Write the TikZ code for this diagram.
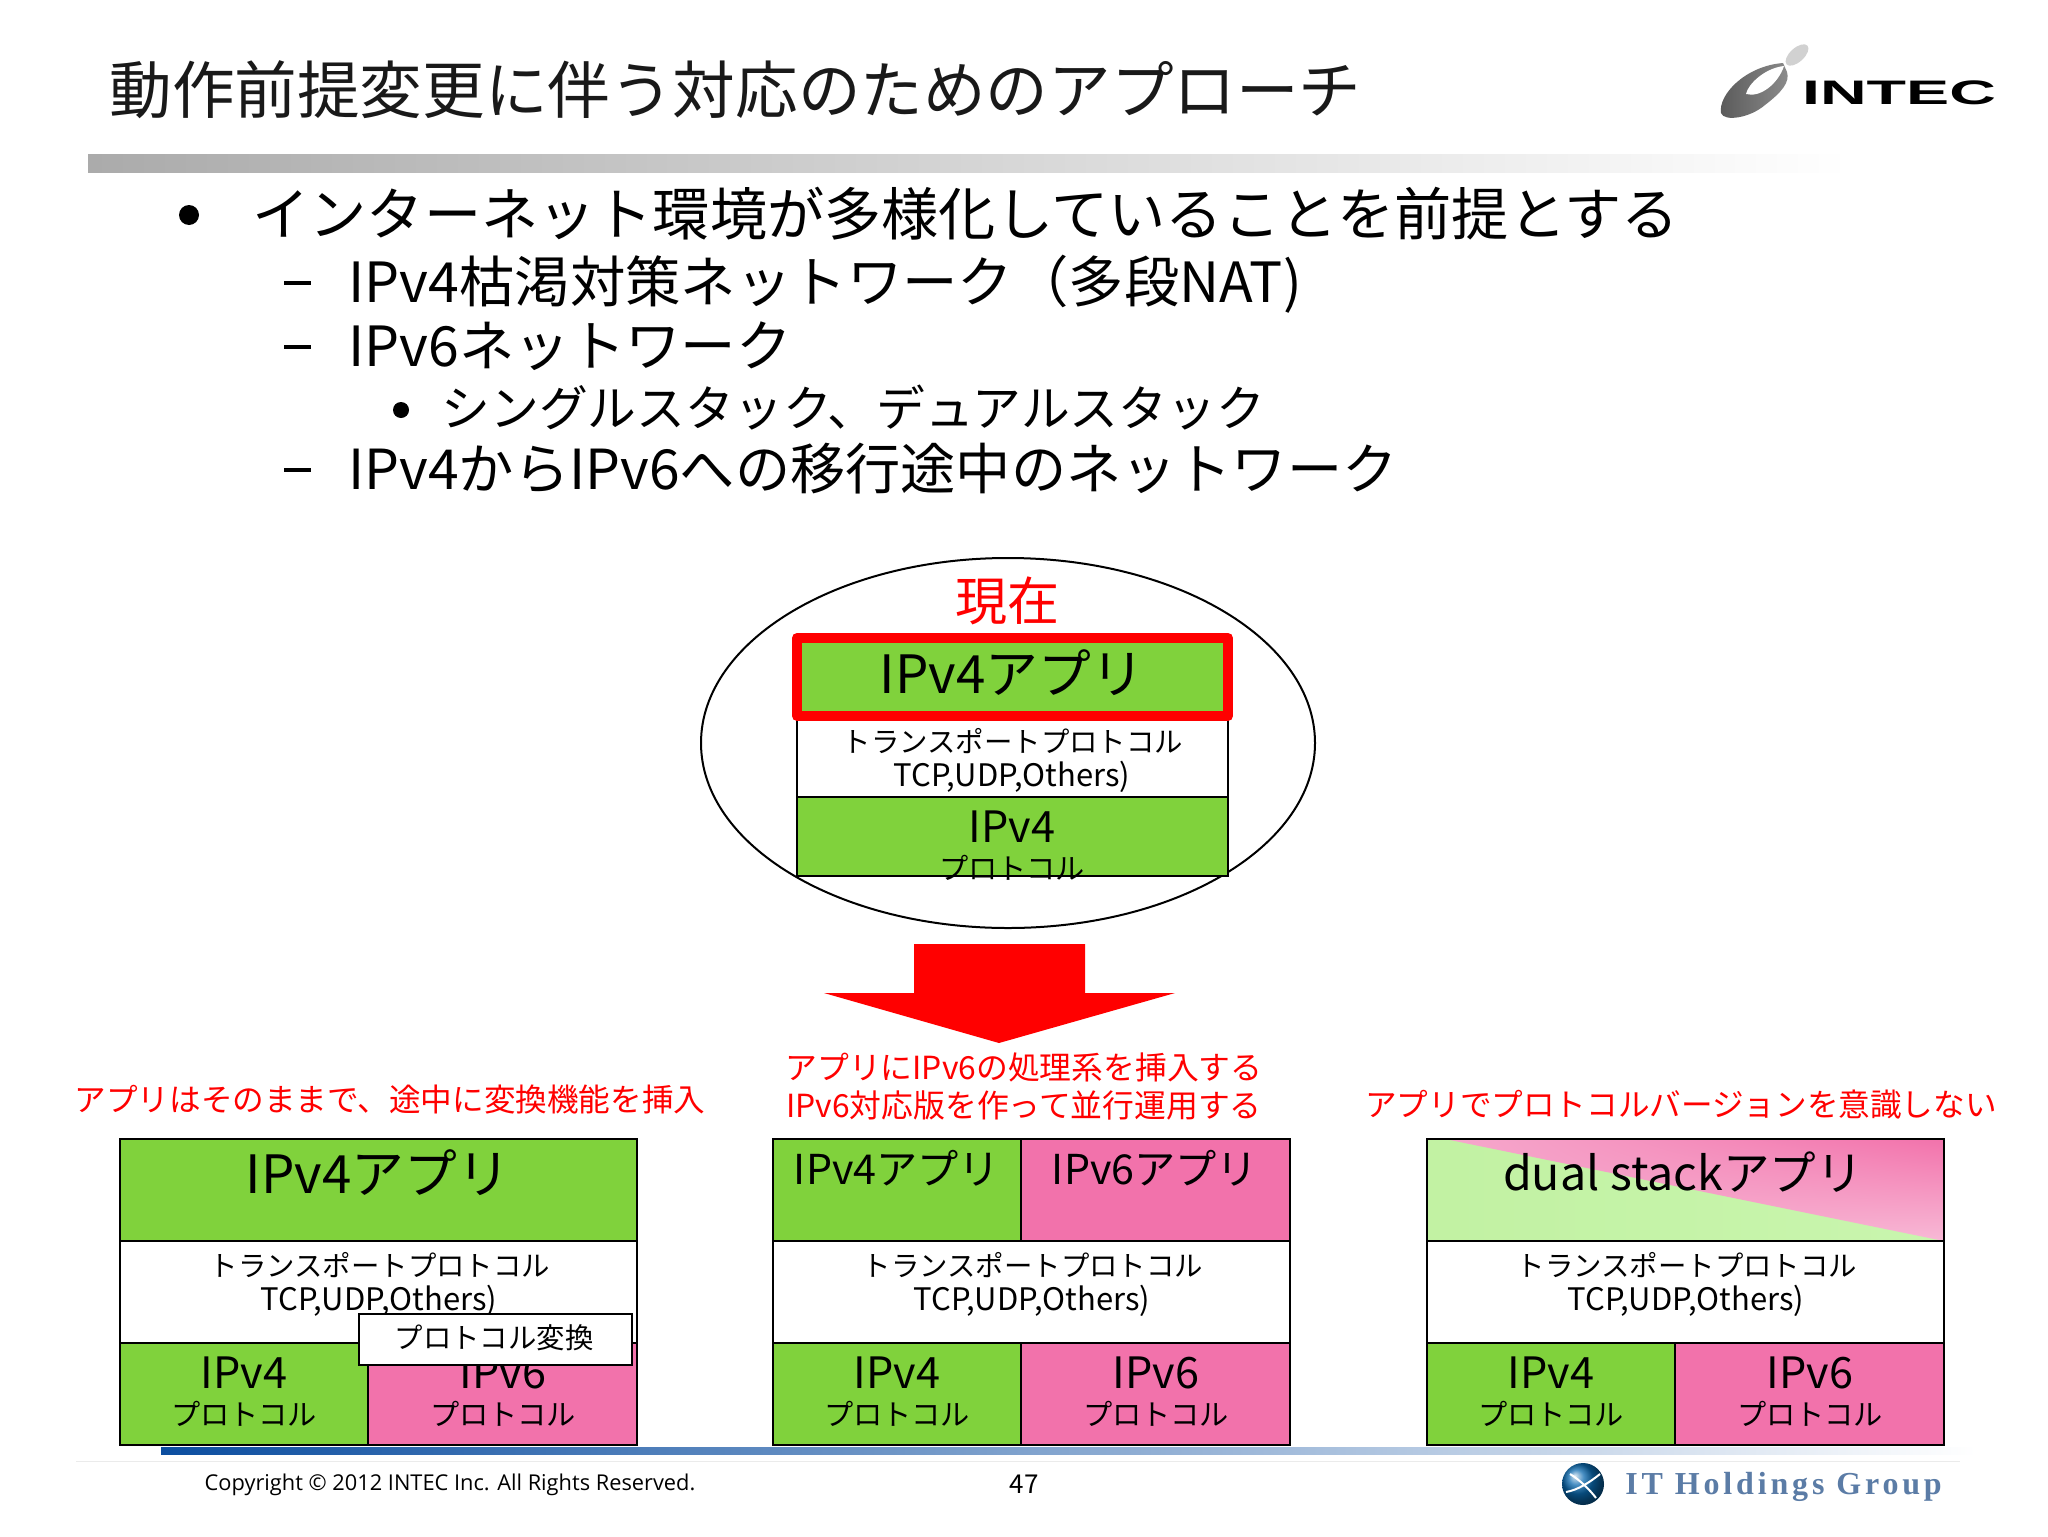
\documentclass[tikz,border=0pt]{standalone}
\usepackage{fontspec}
\setmainfont{Noto Sans CJK JP}
\newfontfamily\copyfont{Open Sans}
\newfontfamily\itfont[LetterSpace=12]{Liberation Serif}
\newfontfamily\logofont{Liberation Sans}
\usetikzlibrary{arrows.meta, calc, positioning, shapes.geometric, shadings}
\definecolor{stackgreen}{HTML}{80D23C}
\definecolor{stackpink}{HTML}{F272AB}
\definecolor{paleGreen}{HTML}{C9F5AE}
\definecolor{palePink}{HTML}{F6A8CC}
\definecolor{footblue}{HTML}{0C4EA0}
\definecolor{footmid}{HTML}{8A93D0}
\definecolor{itblue}{HTML}{5B7CA6}
\tikzset{
  layerbox/.style={draw=black,line width=1.2pt},
  applabel/.style={font=\fontsize{26.4}{30}\selectfont,inner sep=0pt},
  smalljp/.style={font=\fontsize{14.2}{18}\selectfont,inner sep=0pt},
  protojp/.style={font=\fontsize{14.6}{18}\selectfont,inner sep=0pt},
  tcplabel/.style={font=\fontsize{15.5}{18}\selectfont,inner sep=0pt},
  protolabel/.style={font=\fontsize{21.6}{24}\selectfont,inner sep=0pt},
  redjp/.style={font=\fontsize{15.8}{19}\selectfont,red,inner sep=0pt},
  bodyline/.style={anchor=west,inner sep=0pt},
}

\begin{document}
\begin{tikzpicture}[x=0.5pt,y=-0.5pt,>=Stealth]
  \useasboundingbox (0,0) rectangle (2048,1536);
  \fill[white] (0,0) rectangle (2048,1536);
  % ---- title and rule ----
  \node[anchor=west,inner sep=0pt,font=\fontsize{31.3}{36}\selectfont,black!90] (title) at (109,90)
    {動作前提変更に伴う対応のためのアプローチ};
  \shade[left color=black!33,right color=white] (88,154) rectangle (1850,172);
  % ---- intec logo ----
  \shade[left color=black!65,right color=black!45]
    (1783,63) .. controls (1745,66) and (1718,95) .. (1721,113)
    .. controls (1724,122) and (1750,118) .. (1765,105)
    .. controls (1782,92) and (1790,82) .. (1787,72) -- cycle;
  \fill[white] (1784,66) .. controls (1765,68) and (1748,84) .. (1746,94)
    .. controls (1760,98) and (1778,84) .. (1784,66) -- cycle;
  \fill[black!18,rotate around={42:(1797,55)}] (1797,55) ellipse (14 and 7);
  \node[inner sep=0pt,xscale=1.9,font=\logofont\bfseries\fontsize{17}{18}\selectfont] (intec) at (1899,93) {INTEC};
  % ---- bullets ----
  \fill (189,215) circle (10);
  \node[bodyline,font=\fontsize{28.6}{34}\selectfont] (lineA) at (252,214)
    {インターネット環境が多様化していることを前提とする};
  \node[bodyline,font=\fontsize{27.7}{32}\selectfont] (lineB) at (348,284)
    {IPv4枯渇対策ネットワーク（多段NAT)};
  \node[bodyline,font=\fontsize{27.7}{32}\selectfont] (lineC) at (348,346) {IPv6ネットワーク};
  \node[bodyline,font=\fontsize{24.4}{28}\selectfont] (lineD) at (441,408)
    {シングルスタック、デュアルスタック};
  \node[bodyline,font=\fontsize{27.6}{32}\selectfont] (lineE) at (348,469)
    {IPv4からIPv6への移行途中のネットワーク};
  \foreach \y in {283,347,470} {
    \fill (284,\y-2) rectangle (311,\y+2);
  }
  \fill (401,410) circle (8);
  % ---- current stack ----
  \draw[line width=1pt] (1008,743) ellipse (307 and 185);
  \fill[stackgreen] (797,638) rectangle (1228,716);
  \draw[layerbox,fill=white] (797,716) rectangle (1228,797);
  \draw[layerbox,fill=stackgreen] (797,797) rectangle (1228,876);
  \draw[red,line width=5pt,line join=round] (797,638) rectangle (1228,716);
  \node[font=\fontsize{26}{30}\selectfont,red,inner sep=0pt] (nowlabel) at (1007,601) {現在};
  \node[applabel] (nowapp) at (1012,673) {IPv4アプリ};
  \node[smalljp] (nowtrans) at (1013,741) {トランスポートプロトコル};
  \node[tcplabel] (nowtcp) at (1012,777) {TCP,UDP,Others)};
  \node[protolabel] (nowip) at (1012,827) {IPv4};
  \node[protojp] (nowproto) at (1012,868) {プロトコル};
  % ---- down arrow ----
  \fill[red] (914,944) -- (1085,944) -- (1085,993) -- (1175,993) -- (999,1043)
    -- (824,993) -- (914,993) -- cycle;
  % ---- captions ----
  \node[redjp] (capleft) at (390,1100) {アプリはそのままで、途中に変換機能を挿入};
  \node[redjp,font=\fontsize{15.9}{19}\selectfont] (capmidA) at (1024,1067) {アプリにIPv6の処理系を挿入する};
  \node[redjp,font=\fontsize{15.9}{19}\selectfont] (capmidB) at (1024,1105) {IPv6対応版を作って並行運用する};
  \node[redjp] (capright) at (1681,1105) {アプリでプロトコルバージョンを意識しない};
  % ---- three stacks, shared part ----
  \foreach \x/\i in {120/L,773/M,1427/R} {
    \draw[layerbox,fill=white] (\x,1241) rectangle (\x+517,1343);
    \draw[layerbox,fill=stackgreen] (\x,1343) rectangle (\x+248,1445);
    \draw[layerbox,fill=stackpink] (\x+248,1343) rectangle (\x+517,1445);
    \node[smalljp] (trans\i) at (\x+260,1265) {トランスポートプロトコル};
    \node[tcplabel] (tcp\i) at (\x+259,1301) {TCP,UDP,Others)};
    \node[protolabel] (ipA\i) at (\x+124,1373) {IPv4};
    \node[protolabel] (ipB\i) at (\x+383,1373) {IPv6};
    \node[protojp] (protoA\i) at (\x+124,1414) {プロトコル};
    \node[protojp] (protoB\i) at (\x+383,1414) {プロトコル};
  }
  % left: top app and converter
  \draw[layerbox,fill=stackgreen] (120,1139) rectangle (637,1241);
  \node[applabel] (appL) at (378,1173) {IPv4アプリ};
  \draw[layerbox,line width=1pt,fill=white] (359,1314) rectangle (632,1365);
  \node[smalljp] (convert) at (494,1338) {プロトコル変換};
  % middle: two apps
  \draw[layerbox,fill=stackgreen] (773,1139) rectangle (1021,1241);
  \draw[layerbox,fill=stackpink] (1021,1139) rectangle (1290,1241);
  \node[protolabel,font=\fontsize{20.6}{24}\selectfont] (appMA) at (897,1168) {IPv4アプリ};
  \node[protolabel,font=\fontsize{20.6}{24}\selectfont] (appMB) at (1155,1168) {IPv6アプリ};
  % right: dual stack app
  \shade[left color=paleGreen!90!stackgreen,right color=paleGreen] (1427,1139) rectangle (1944,1241);
  \shade[upper right=stackpink,lower right=palePink!80!white,upper left=palePink,lower left=palePink]
    (1445,1139) -- (1944,1139) -- (1944,1241) -- cycle;
  \draw[layerbox] (1427,1139) rectangle (1944,1241);
  \node[applabel,font=\fontsize{23.3}{30}\selectfont] (appR) at (1683,1172) {dual stackアプリ};
  % ---- footer ----
  \shade[left color=footblue,middle color=footmid,right color=white] (161,1447) rectangle (1976,1454);
  \draw[black!8] (76,1461) -- (1960,1461);
  \node[inner sep=0pt,font=\copyfont\fontsize{10.9}{12}\selectfont] (copy) at (450,1485)
    {Copyright © 2012 INTEC Inc. All Rights Reserved.};
  \node[inner sep=0pt,font=\fontsize{13}{15}\selectfont] (page) at (1024,1484) {47};
  \shade[ball color=footblue!85!cyan] (1583,1484) circle (21);
  \draw[white,line width=1pt] (1566,1492) .. controls (1578,1490) and (1590,1482) .. (1600,1474);
  \draw[white,line width=1pt] (1570,1474) .. controls (1580,1480) and (1590,1490) .. (1596,1498);
  \node[anchor=west,inner sep=0pt,text=itblue,font=\itfont\bfseries\fontsize{16}{18}\selectfont] (itgroup) at (1625,1487)
    {IT Holdings Group};
\end{tikzpicture}
\end{document}
